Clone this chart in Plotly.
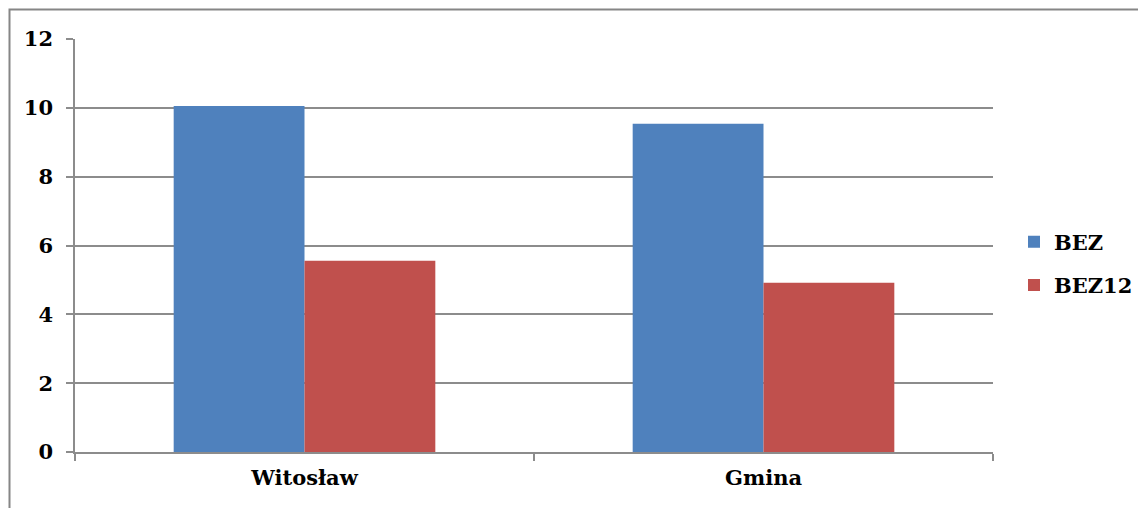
import plotly.graph_objects as go

categories = ["Witosław", "Gmina"]
series_names = ["BEZ", "BEZ12"]
bez_values = [10.05, 9.54]
bez12_values = [5.56, 4.92]
y_ticks = [0, 2, 4, 6, 8, 10, 12]

colors = ["#4F81BD", "#C0504D"]
font_family = "DejaVu Serif"
grid_color = "#8C8C8C"
FS = 21

# page body has an 8px margin; target screen pixels are shifted by this
OFF = 8
W, H = 1146, 508
L = 75 - OFF
T = 39 - OFF
R = W - (993 - OFF)
B = H - (452 - OFF)
pw, ph = W - L - R, H - T - B
bottom_px = H - B  # figure pixel of y=0

fig = go.Figure()
for name, vals, col in zip(series_names, [bez_values, bez12_values], colors):
    fig.add_trace(go.Bar(
        x=categories, y=vals, name=name, legendgroup=name,
        marker=dict(color=col, line=dict(width=0)),
    ))

fig.update_layout(
    width=W, height=H,
    margin=dict(l=L, r=R, t=T, b=B, autoexpand=False),
    paper_bgcolor="white", plot_bgcolor="white",
    barmode="group", bargap=0.43, bargroupgap=0,
    font=dict(family=font_family, size=FS, color="black"),
    legend=dict(
        x=(1014 - OFF - L) / pw, y=(bottom_px - (263.5 - OFF)) / ph,
        xanchor="left", yanchor="middle",
        font=dict(family=font_family, size=FS, color="black", weight="bold"),
        tracegroupgap=13, bgcolor="rgba(0,0,0,0)",
    ),
    showlegend=True,
)
fig.update_yaxes(
    range=[0, 12], tickvals=y_ticks, ticktext=[str(v) for v in y_ticks],
    showgrid=True, gridcolor=grid_color, gridwidth=1.5,
    showline=True, linecolor=grid_color, linewidth=1.5,
    ticks="outside", ticklen=7, tickcolor=grid_color, tickwidth=1.5,
    zeroline=False,
    tickfont=dict(family=font_family, size=FS, color="black", weight="bold"),
    ticklabelstandoff=9,
)
fig.update_xaxes(
    showline=True, linecolor=grid_color, linewidth=1.5,
    ticks="outside", tickson="boundaries", ticklen=7, tickcolor=grid_color, tickwidth=1.5,
    tickfont=dict(family=font_family, size=FS, color="black", weight="bold"),
    ticklabelstandoff=6,
)
# outer chart-area border (cropped chart frame)
fig.add_shape(
    type="rect", xref="paper", yref="paper",
    x0=(9.5 - OFF - L) / pw, x1=(W + 20 - L) / pw,
    y0=(bottom_px - (H + 20)) / ph, y1=(bottom_px - (9.5 - OFF)) / ph,
    line=dict(color="#868686", width=2), fillcolor="rgba(0,0,0,0)", layer="below",
)
fig.write_html("out.html")
